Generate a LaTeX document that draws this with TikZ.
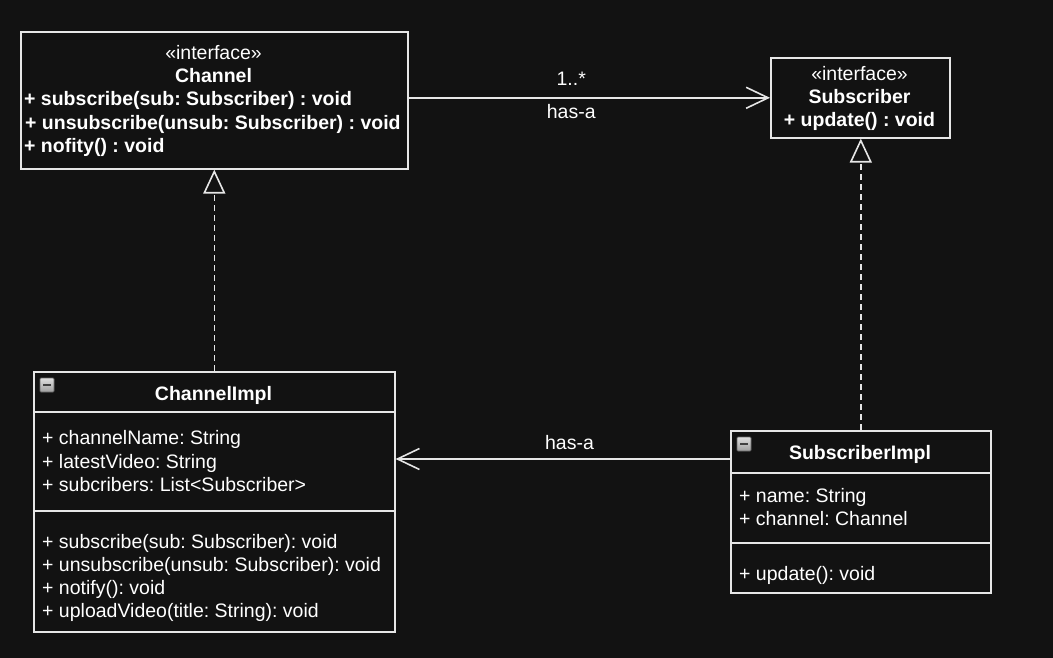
\documentclass[tikz,border=0pt]{standalone}
\usepackage{fontspec}
\setmainfont{Liberation Sans}
\usetikzlibrary{arrows.meta, positioning, calc}
\definecolor{bg}{HTML}{121212}
\definecolor{edge}{HTML}{E6E6E6}
\frenchspacing

\tikzset{
  classbox/.style={draw=edge, line width=1.6pt, fill=bg, anchor=north west, inner sep=0pt},
  member/.style={text=white, font=\fontsize{19.5}{23.5}\selectfont, inner sep=0pt, anchor=base west},
  heading/.style={member, anchor=base, font=\fontsize{19.5}{23.5}\selectfont\bfseries},
  stereo/.style={member, anchor=base},
  lbl/.style={text=white, font=\fontsize{19.5}{23.5}\selectfont, inner sep=0pt},
  assoc/.style={draw=edge, line width=1.6pt, -{Straight Barb[length=22pt, width=21pt, line width=1.6pt]}},
  realize/.style={draw=edge, line width=1.6pt, dash pattern=on 6pt off 4pt, -{Triangle[open, length=24pt, width=22pt, line width=1.6pt, fill=bg]}},
  iconbox/.style={draw=black!60, line width=0.8pt, rounded corners=1pt, top color=gray!25, bottom color=gray!75}
}

\begin{document}
\begin{tikzpicture}[x=1pt, y=-1pt]
        \fill[bg] (0,0) rectangle (1053,658);

        % interfaces
        \node[classbox, minimum width=387pt, minimum height=137pt] (chan) at (20,31) {};
        \node[stereo] (chanst) at (213.5,60) {«interface»};
        \node[heading] (channame) at (213.5,83) {Channel};
        \node[member, font=\fontsize{19.5}{23.5}\selectfont\bfseries] (chanm1) at (24,106) {+ subscribe(sub: Subscriber) : void};
        \node[member, font=\fontsize{19.5}{23.5}\selectfont\bfseries] (chanm2) at (25,130) {+ unsubscribe(unsub: Subscriber) : void};
        \node[member, font=\fontsize{19.5}{23.5}\selectfont\bfseries] (chanm3) at (24,153) {+ nofity() : void};

        \node[classbox, minimum width=179pt, minimum height=80pt] (sub) at (770,57) {};
        \node[stereo] (subst) at (859.5,81) {«interface»};
        \node[heading] (subname) at (859.5,104) {Subscriber};
        \node[heading] (subm1) at (859.5,127) {+ update() : void};

        % ChannelImpl
        \node[classbox, minimum width=361pt, minimum height=260pt] (chimpl) at (33,371) {};
        \draw[edge, line width=1.6pt] (33,412) -- (394,412);
        \draw[edge, line width=1.6pt] (33,511) -- (394,511);
        \draw[iconbox] (40,378) rectangle ++(14,14);
        \draw[black!75, line width=2pt] (43,385) -- (51,385);
        \node[heading] (chimplname) at (213.5,400) {ChannelImpl};
        \node[member] (chattr1) at (42,444) {+ channelName: String};
        \node[member] (chattr2) at (42,468) {+ latestVideo: String};
        \node[member] (chattr3) at (42,491) {+ subcribers: List<Subscriber>};
        \node[member] (chop1) at (42,548) {+ subscribe(sub: Subscriber): void};
        \node[member] (chop2) at (42,571) {+ unsubscribe(unsub: Subscriber): void};
        \node[member] (chop3) at (42,594) {+ notify(): void};
        \node[member] (chop4) at (42,617) {+ uploadVideo(title: String): void};

        % SubscriberImpl
        \node[classbox, minimum width=260pt, minimum height=162pt] (subimpl) at (730,430) {};
        \draw[edge, line width=1.6pt] (730,473) -- (990,473);
        \draw[edge, line width=1.6pt] (730,543) -- (990,543);
        \draw[iconbox] (737,437) rectangle ++(14,14);
        \draw[black!75, line width=2pt] (740,444) -- (748,444);
        \node[heading] (subimplname) at (860,459) {SubscriberImpl};
        \node[member] (sattr1) at (739,502) {+ name: String};
        \node[member] (sattr2) at (739,525) {+ channel: Channel};
        \node[member] (sop1) at (739,580) {+ update(): void};

        % relations
        \draw[assoc] (chan.east |- sub.west) -- (sub.west)
          node[lbl, pos=0.45, above=11pt] (mult) {1..*}
          node[lbl, pos=0.45, below=6pt] (hasa1) {has-a};
        \coordinate (hasfrom) at ($(subimpl.north west)+(0,29)$);
        \draw[assoc] (hasfrom) -- (hasfrom -| chimpl.east)
          node[lbl, pos=0.48, above=9pt] (hasa2) {has-a};
        \draw[realize] (chimpl.north) -- (chan.south);
        \draw[realize] (subimpl.north) -- (subimpl.north |- sub.south);
\end{tikzpicture}
\end{document}
